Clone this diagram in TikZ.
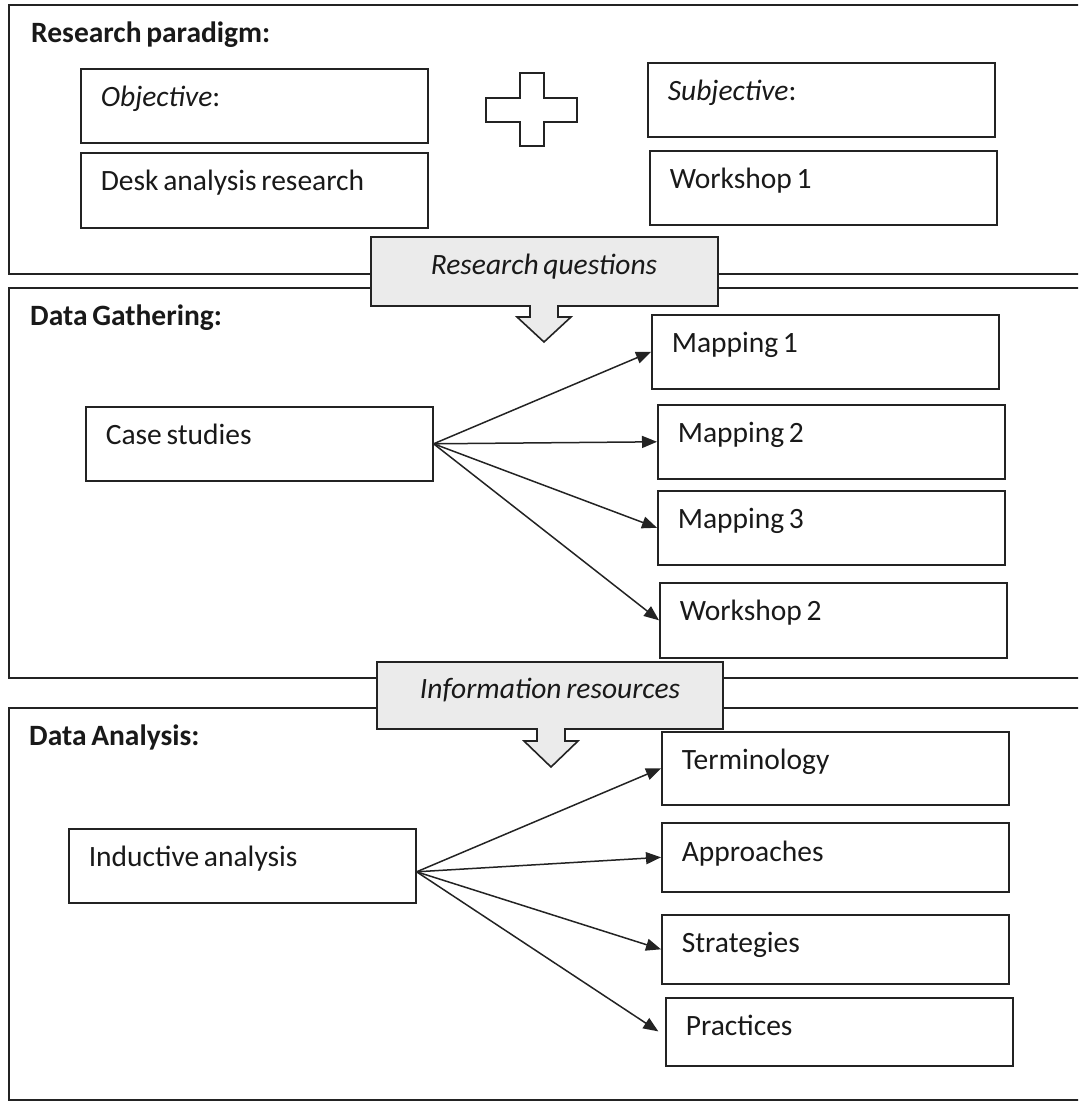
\documentclass[tikz,border=0pt]{standalone}
\usepackage{fontspec}
\setmainfont{Carlito}[WordSpace=0.7]
\usetikzlibrary{arrows.meta}
\definecolor{lc}{RGB}{35,35,35}
\definecolor{txt}{RGB}{25,25,25}
\definecolor{callfill}{RGB}{235,235,235}
\newcommand\dfont{\fontsize{29.5pt}{35pt}\selectfont}
\begin{document}
\begin{tikzpicture}[x=1pt,y=-1pt,
  box/.style={draw=lc, line width=1.6pt, anchor=north west, inner xsep=20pt, inner ysep=0pt,
    text width=307pt, align=flush left, text height=38pt, font=\dfont, text=txt},
  frame/.style={draw=lc, line width=1.6pt},
  callout/.style={draw=lc, line width=1.6pt, fill=callfill},
  ttl/.style={anchor=base west, font=\dfont\bfseries, text=txt, inner sep=0pt},
  ctext/.style={anchor=base, font=\dfont\itshape, text=txt, inner sep=0pt},
  arr/.style={draw=lc, line width=1.5pt, -{Triangle[length=15pt,width=12pt]}}]
\useasboundingbox (0,0) rectangle (1078,1102);
\clip (0,0) rectangle (1078,1102);
% frames
\draw[frame] (9,5) rectangle (1100,274);
\draw[frame] (9,288) rectangle (1100,678);
\draw[frame] (9,708) rectangle (1100,1100);
% titles
\node[ttl] (t1) at (31,43) {Research paradigm:};
\node[ttl] (t2) at (30,325) {Data Gathering:};
\node[ttl] (t3) at (29,745) {Data Analysis:};
% top section
\node[box, text depth=36pt] (obj) at (80,68) {\textit{Objective}:};
\node[box, text depth=37pt] (desk) at (80,152) {Desk analysis research};
\node[box, text depth=36pt] (subj) at (647,62) {\textit{Subjective}:};
\node[box, text depth=36pt] (ws1) at (649,150) {Workshop 1};
\draw[draw=lc, line width=1.6pt, fill=white] (486,98) -- (520,98) -- (520,73) -- (544,73) -- (544,98) -- (577,98) -- (577,122) -- (544,122) -- (544,146) -- (520,146) -- (520,122) -- (486,122) -- cycle;
% callout 1
\draw[callout] (371,237) -- (718,237) -- (718,306) -- (558,306) -- (558,317) -- (571,317) -- (544,342) -- (517,317) -- (530,317) -- (530,306) -- (371,306) -- cycle;
\node[ctext] (rq) at (544,274) {Research questions};
% data gathering
\node[box, text depth=36pt] (case) at (85,406) {Case studies};
\node[box, text depth=36pt] (m1) at (651,314) {Mapping 1};
\node[box, text depth=36pt] (m2) at (657,404) {Mapping 2};
\node[box, text depth=36pt] (m3) at (657,490) {Mapping 3};
\node[box, text depth=37pt] (ws2) at (659,582) {Workshop 2};
\draw[arr] (case.east) -- (m1.west);
\draw[arr] (case.east) -- (m2.west);
\draw[arr] (case.east) -- (m3.west);
\draw[arr] (case.east) -- (ws2.west);
% callout 2
\draw[callout] (377,662) -- (723,662) -- (723,729) -- (565,729) -- (565,741) -- (578,741) -- (551,767) -- (524,741) -- (537,741) -- (537,729) -- (377,729) -- cycle;
\node[ctext] (ir) at (550,698) {Information resources};
% data analysis
\node[box, text depth=36pt] (ind) at (68,828) {Inductive analysis};
\node[box, text depth=35pt] (term) at (661,731) {Terminology};
\node[box, text height=39pt, text depth=30pt] (appr) at (661,822) {Approaches};
\node[box, text depth=31pt] (strat) at (661,914) {Strategies};
\node[box, text depth=30pt] (prac) at (665,997) {Practices};
\coordinate (io) at ([yshift=-6pt]ind.east);
\draw[arr] (io) -- (term.west);
\draw[arr] (io) -- (appr.west);
\draw[arr] (io) -- (strat.west);
\draw[arr, shorten >=8pt] (io) -- ([yshift=-4pt]prac.west);
\end{tikzpicture}
\end{document}
